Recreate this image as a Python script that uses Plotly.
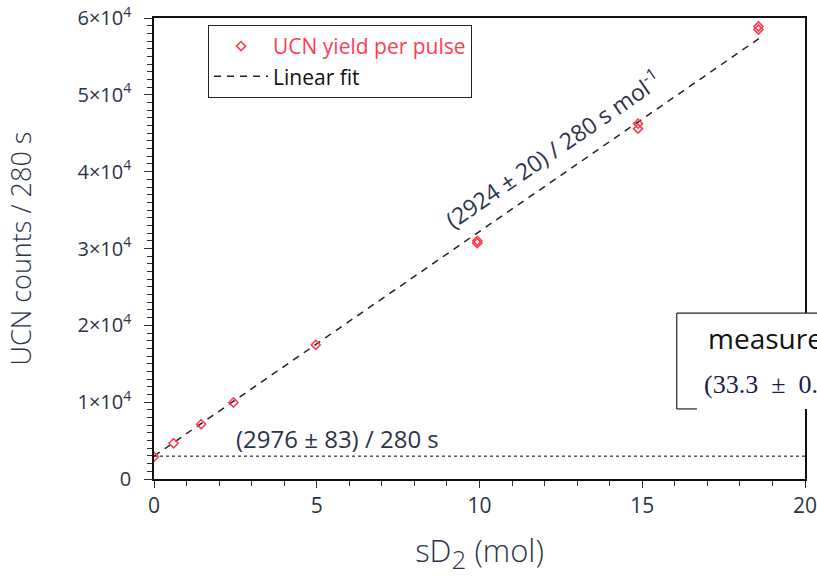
import plotly.graph_objects as go

# Measured UCN yield per pulse vs. solid D2 amount
sd2_mol = [0.0, 0.6, 1.45, 2.44, 4.97, 9.93, 9.93, 14.87, 14.87, 18.57, 18.57]
ucn_counts = [2900, 4650, 7120, 9950, 17450, 30700, 31000, 46250, 45600, 58900, 58500]

# Linear fit parameters (per 280 s)
fit_slope = 2924
fit_offset = 2976
fit_x = [0.0, 18.58]
fit_y = [fit_offset + fit_slope * v for v in fit_x]

# Background level
bg_x = [0, 20]
bg_y = [fit_offset, fit_offset]

y_tick_vals = [0, 10000, 20000, 30000, 40000, 50000, 60000]
y_tick_text = ["0", "1×10<sup>4</sup>", "2×10<sup>4</sup>", "3×10<sup>4</sup>",
               "4×10<sup>4</sup>", "5×10<sup>4</sup>", "6×10<sup>4</sup>"]
x_tick_vals = [0, 5, 10, 15, 20]

FONT = "Open Sans"
TXT = "#2b3347"
RED = "#ff3d52"
EN = "\u2002"

fig = go.Figure()

fig.add_trace(go.Scatter(
    x=bg_x, y=bg_y, mode="lines", showlegend=False,
    line=dict(color="black", width=1, dash="3px,3px"), hoverinfo="skip"))

fig.add_trace(go.Scatter(
    x=fit_x, y=fit_y, mode="lines", name="Linear fit",
    line=dict(color="#222222", width=1.5, dash="7px,6px")))

fig.add_trace(go.Scatter(
    x=sd2_mol, y=ucn_counts, mode="markers",
    name=f"<span style='color:{RED}'>UCN yield per pulse</span>",
    marker=dict(symbol="diamond-open", size=7, color=RED, line=dict(width=1.6, color=RED))))

# Fit result labels
fig.add_annotation(x=12.25, y=43000, xref="x", yref="y", showarrow=False,
                   text="(2924 ± 20) / 280 s mol<sup>-1</sup>", textangle=-34.6,
                   font=dict(family=FONT, size=23, color=TXT))
fig.add_annotation(x=2.45, y=5300, xref="x", yref="y", showarrow=False,
                   xanchor="left", yanchor="middle",
                   text="(2976 ± 83) / 280 s",
                   font=dict(family=FONT, size=24, color=TXT))

# Overlaid "measured" box at the right edge
box_l, box_r, box_t, box_b = 0.803, 1.06, 0.360, 0.152
fig.add_shape(type="rect", xref="paper", yref="paper",
              x0=box_l, x1=box_r, y0=box_b, y1=box_t,
              fillcolor="white", line=dict(width=0), layer="above")
fig.add_shape(type="line", xref="paper", yref="paper",
              x0=box_l, x1=box_l, y0=box_b, y1=box_t,
              line=dict(color="#222222", width=1.2), layer="above")
fig.add_shape(type="line", xref="paper", yref="paper",
              x0=box_l, x1=box_r, y0=box_t, y1=box_t,
              line=dict(color="#222222", width=1.2), layer="above")
fig.add_shape(type="line", xref="paper", yref="paper",
              x0=box_l, x1=box_l + 0.031, y0=box_b, y1=box_b,
              line=dict(color="#222222", width=1.2), layer="above")
fig.add_annotation(x=0.848, y=0.306, xref="paper", yref="paper",
                   showarrow=False, xanchor="left", yanchor="middle",
                   text="measured", font=dict(family=FONT, size=28, color="#111111"))
fig.add_annotation(x=0.842, y=0.205, xref="paper", yref="paper",
                   showarrow=False, xanchor="left", yanchor="middle",
                   text=f"(33.3{EN}±{EN}0.3)",
                   font=dict(family="Liberation Serif", size=26, color="#1c1c48"))

fig.update_layout(
    width=817, height=577,
    margin=dict(l=154, r=12, t=18, b=98, autoexpand=False),
    paper_bgcolor="white", plot_bgcolor="white",
    font=dict(family=FONT, color=TXT),
    legend=dict(x=0.083, y=0.985, xanchor="left", yanchor="top",
                bordercolor="#222222", borderwidth=1, bgcolor="white",
                font=dict(family=FONT, size=21, color="#111111"),
                itemwidth=54, traceorder="reversed", tracegroupgap=0),
    xaxis=dict(range=[0, 20], tickvals=x_tick_vals, ticks="outside", ticklen=7,
               tickwidth=1, tickcolor="#333333", showline=True, linecolor="#111111",
               linewidth=1.5, mirror=True, showgrid=False, zeroline=False,
               ticklabeloverflow="allow",
               tickfont=dict(size=21, color=TXT),
               minor=dict(dtick=1, ticks="outside", ticklen=5, tickcolor="#333333", showgrid=False),
               title=dict(text="sD<sub><span style='font-size:26px'>2</span></sub> (mol)",
                          font=dict(size=31, color=TXT, weight=300), standoff=29)),
    yaxis=dict(range=[0, 60000], tickvals=y_tick_vals, ticktext=y_tick_text,
               ticks="outside", ticklen=8, tickwidth=1, tickcolor="#333333",
               showline=True, linecolor="#111111", linewidth=1.5, mirror=True,
               showgrid=False, zeroline=False, ticklabelstandoff=9,
               tickfont=dict(size=20, color=TXT),
               minor=dict(dtick=1000, ticks="outside", ticklen=5, tickcolor="#333333", showgrid=False),
               title=dict(text="UCN counts / 280 s", font=dict(size=27, color=TXT, weight=300),
                          standoff=38)),
)

fig.write_html("out.html")
